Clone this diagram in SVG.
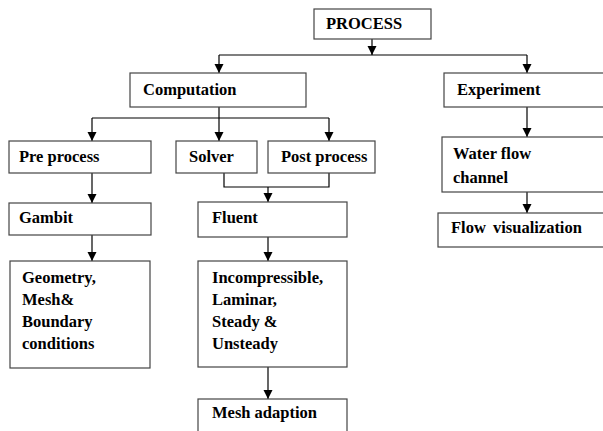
<svg xmlns="http://www.w3.org/2000/svg" width="603" height="431" viewBox="0 0 603 431">
<style>
.box{fill:#fff;stroke:#444;stroke-width:1.2}
.t{font-family:'Liberation Serif','Times New Roman','DejaVu Serif',serif;font-weight:700;font-size:16.5px;fill:#000}
.c{fill:none;stroke:#000;stroke-width:1.2}
</style>
<defs>
<marker id="ah" markerWidth="10" markerHeight="10" refX="9" refY="5" orient="auto" markerUnits="userSpaceOnUse">
<path d="M0,0.5 L9,5 L0,9.5 Z" fill="#000"/>
</marker>
</defs>
<rect width="603" height="431" fill="#fff"/>
<g id="connectors">
<path class="c" d="M372 39 V55" marker-end="url(#ah)"/>
<path class="c" d="M219 55 H527"/>
<path class="c" d="M219 55 V73" marker-end="url(#ah)"/>
<path class="c" d="M527 55 V73" marker-end="url(#ah)"/>
<path class="c" d="M219 107 V141" marker-end="url(#ah)"/>
<path class="c" d="M92 118 H329"/>
<path class="c" d="M92 118 V141" marker-end="url(#ah)"/>
<path class="c" d="M329 118 V141" marker-end="url(#ah)"/>
<path class="c" d="M92 173 V203" marker-end="url(#ah)"/>
<path class="c" d="M92 235 V261" marker-end="url(#ah)"/>
<path class="c" d="M224 173 V187 H329 V173"/>
<path class="c" d="M268 187 V202" marker-end="url(#ah)"/>
<path class="c" d="M268 237 V261" marker-end="url(#ah)"/>
<path class="c" d="M268 367 V399" marker-end="url(#ah)"/>
<path class="c" d="M527 107 V137" marker-end="url(#ah)"/>
<path class="c" d="M527 192 V213" marker-end="url(#ah)"/>
</g>
<g id="process"><rect class="box" x="314" y="9" width="117" height="30"/><text class="t" x="326" y="29">PROCESS</text></g>
<g id="computation"><rect class="box" x="130" y="73" width="176" height="34"/><text class="t" x="143" y="95">Computation</text></g>
<g id="experiment"><rect class="box" x="444" y="73" width="170" height="34"/><text class="t" x="457" y="95">Experiment</text></g>
<g id="preprocess"><rect class="box" x="9" y="141" width="142" height="32"/><text class="t" x="19" y="162">Pre process</text></g>
<g id="solver"><rect class="box" x="176" y="141" width="81" height="32"/><text class="t" x="189" y="162">Solver</text></g>
<g id="postprocess"><rect class="box" x="268" y="141" width="107" height="32"/><text class="t" x="281" y="162">Post process</text></g>
<g id="gambit"><rect class="box" x="9" y="203" width="142" height="32"/><text class="t" x="19" y="223">Gambit</text></g>
<g id="fluent"><rect class="box" x="198" y="202" width="149" height="35"/><text class="t" x="212" y="223">Fluent</text></g>
<g id="geometry"><rect class="box" x="10" y="261" width="140" height="107"/>
<text class="t" x="22" y="283">Geometry,</text>
<text class="t" x="22" y="305">Mesh&amp;</text>
<text class="t" x="22" y="327">Boundary</text>
<text class="t" x="22" y="349">conditions</text></g>
<g id="incompressible"><rect class="box" x="198" y="261" width="149" height="106"/>
<text class="t" x="212" y="283">Incompressible,</text>
<text class="t" x="212" y="305">Laminar,</text>
<text class="t" x="212" y="327">Steady &amp;</text>
<text class="t" x="212" y="349">Unsteady</text></g>
<g id="meshadaption"><rect class="box" x="198" y="399" width="149" height="40"/><text class="t" x="212" y="418">Mesh adaption</text></g>
<g id="waterflow"><rect class="box" x="442" y="137" width="170" height="55"/>
<text class="t" x="453" y="159">Water flow</text>
<text class="t" x="453" y="183">channel</text></g>
<g id="flowvis"><rect class="box" x="438" y="213" width="175" height="34"/><text class="t" x="451" y="233" word-spacing="3">Flow visualization</text></g>
</svg>
